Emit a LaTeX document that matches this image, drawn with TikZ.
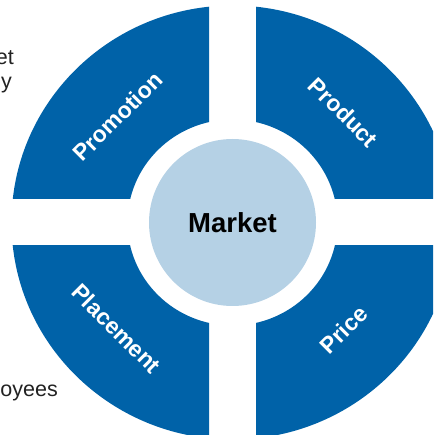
\documentclass[tikz,border=0pt]{standalone}
\usepackage{fontspec}
\setmainfont{Liberation Sans}
\definecolor{segblue}{HTML}{0062A8}
\definecolor{mktblue}{HTML}{B5D1E5}
\definecolor{sidegray}{HTML}{222222}

\begin{document}
\begin{tikzpicture}[x=1pt,y=1pt,
		seg/.style={fill=segblue, even odd rule},
		seglabel/.style={text=white, font=\bfseries\fontsize{23}{27}\selectfont, inner sep=0pt},
		sidetext/.style={text=sidegray, font=\fontsize{21.5}{25}\selectfont, inner sep=0pt, anchor=base east}]
		\useasboundingbox (-232.5,-212.5) rectangle (200.5,222.5);
		\clip (-232.5,-212.5) rectangle (200.5,222.5);
		
		\node[sidetext] (textA) at (-218.5,157.5) {et};
		\node[sidetext] (textB) at (-220.5,134) {y};
		\node[sidetext] (textC) at (-174.5,-173.5) {oyees};
		
		\foreach \sx/\sy in {-1/1, 1/1, -1/-1, 1/-1}{
			\begin{scope}
			\clip (23.5*\sx,23.5*\sy) rectangle (300*\sx,300*\sy);
			\fill[seg] (0,0) ellipse[x radius=221, y radius=217] (0,0) ellipse[x radius=105, y radius=103];
			\end{scope}
		}
		
		\node[circle, fill=mktblue, minimum size=167pt, inner sep=0pt, font=\bfseries\fontsize{27.5}{32}\selectfont] (market) at (0,0) {Market};
		
		\node[seglabel, rotate=45] (promotion) at (-115,106) {Promotion};
		\node[seglabel, rotate=-45] (product) at (111,110) {Product};
		\node[seglabel, rotate=-45] (placement) at (-116,-106) {Placement};
		\node[seglabel, rotate=45] (price) at (111,-107) {Price};
\end{tikzpicture}
\end{document}
